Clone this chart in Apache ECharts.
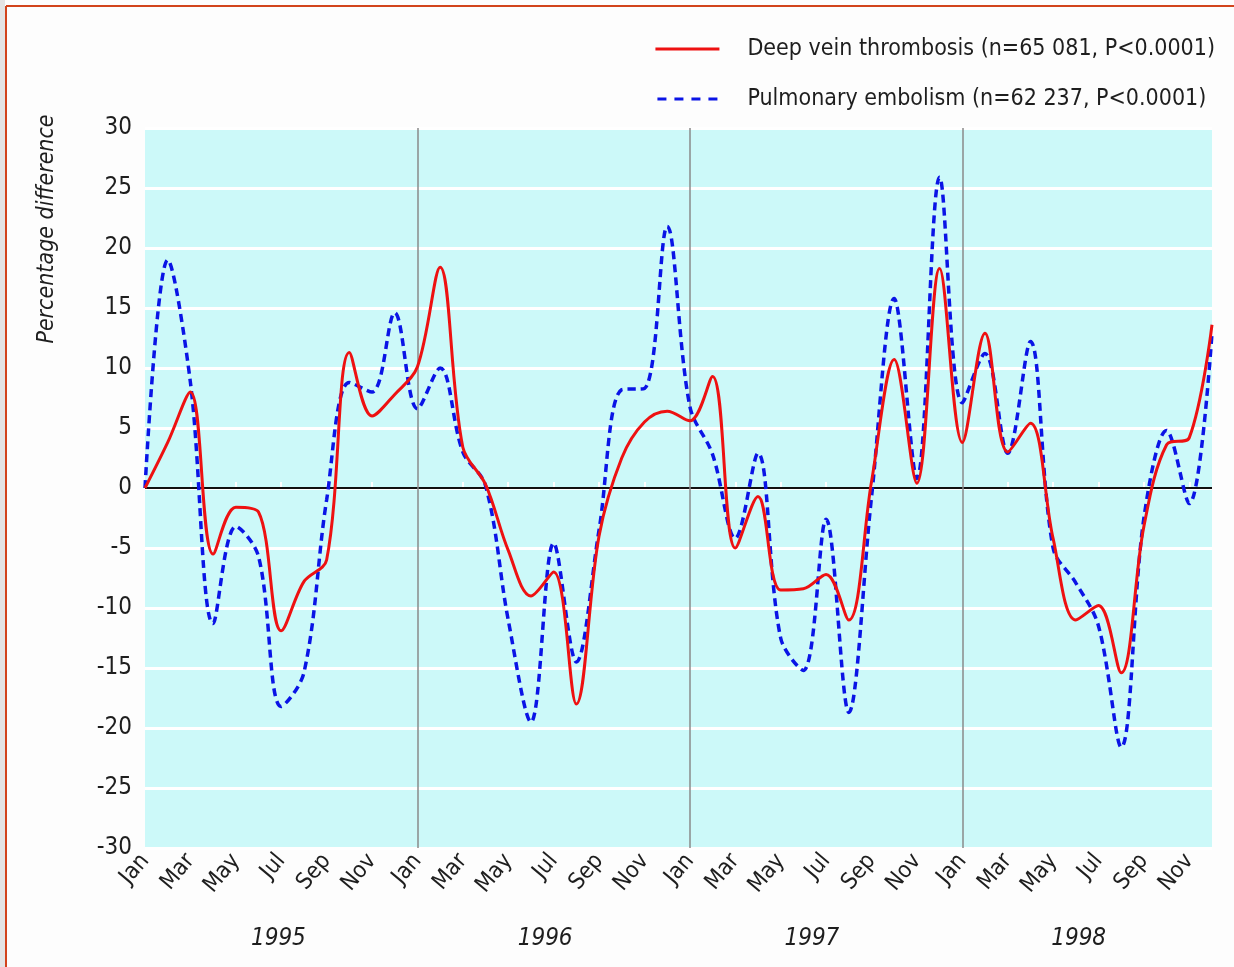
<!DOCTYPE html>
<html>
<head>
<meta charset="utf-8">
<script src="https://cdn.jsdelivr.net/npm/echarts@6/dist/echarts.min.js"></script>
<style>
  html, body { margin: 0; padding: 0; background: #fdfdfd; }
  #chart { width: 1234px; height: 967px; }
</style>
</head>
<body>
<div id="chart"></div>
<script>
// Monthly percentage difference from the annual mean, Jan 1995 - Dec 1998
const monthNames = ['Jan', 'Feb', 'Mar', 'Apr', 'May', 'Jun', 'Jul', 'Aug', 'Sep', 'Oct', 'Nov', 'Dec'];
const years = ['1995', '1996', '1997', '1998'];

const dvtValues = [
  0, 3.8, 8.0, -5.5, -1.6, -2.0, -11.9, -7.8, -6.0, 11.3, 6.0, 7.8,
  10.1, 18.4, 3.4, 0.3, -5.2, -9.0, -7.0, -18.0, -4.0, 2.5, 5.5, 6.4,
  5.6, 9.3, -5.0, -0.7, -8.5, -8.4, -7.2, -11.0, 0.5, 10.7, 0.4, 18.3,
  3.8, 12.9, 3.0, 5.4, -4.2, -11.0, -9.8, -15.4, -3.2, 3.6, 4.2, 13.6
];
const peValues = [
  0, 19.0, 8.8, -11.3, -3.2, -5.7, -18.2, -15.4, -1.0, 8.8, 8.0, 14.6,
  6.6, 10.0, 3.0, 0.2, -11.0, -19.5, -4.6, -14.5, -3.5, 8.2, 8.3, 21.8,
  6.8, 2.8, -4.2, 2.9, -12.5, -15.2, -2.6, -18.7, -0.8, 15.8, 0.8, 25.9,
  7.1, 11.2, 2.9, 12.2, -5.0, -7.9, -11.5, -21.6, -2.5, 4.8, -1.3, 12.9
];
const seriesNames = [
  'Deep vein thrombosis (n=65 081, P<0.0001)',
  'Pulmonary embolism (n=62 237, P<0.0001)'
];
const yTitle = 'Percentage difference';

// one category per month across all years
const months = [];
years.forEach(y => monthNames.forEach(m => months.push(m + ' ' + y)));

const FONT = '"Liberation Sans Narrow", "DejaVu Sans Condensed", sans-serif';
const TEXT = '#1e1e1e';
const RED = '#ee1111';
const BLUE = '#0a14e6';

// legend keys: a solid bar and a row of four dashes
const solidKey = 'path://M0,0H64V3H0Z';
const dashKey = 'path://M0,0H9V3H0Z M17,0H26V3H17Z M34,0H43V3H34Z M51,0H60V3H51Z';

// reference lines: zero line plus a divider at each new year
const refLines = [{ yAxis: 0, lineStyle: { color: '#111111', width: 2 } }];
years.slice(1).forEach(y => refLines.push({
  xAxis: 'Jan ' + y, lineStyle: { color: '#8a8a8a', width: 1.5 }
}));

const chart = echarts.init(document.getElementById('chart'), null, { renderer: 'canvas' });

chart.setOption({
  backgroundColor: '#fdfdfd',
  animation: false,
  textStyle: { fontFamily: FONT, color: TEXT },
  grid: {
    left: 145, right: 22, top: 128, bottom: 119,
    show: true, backgroundColor: '#ccf9f9', borderWidth: 0
  },
  legend: {
    orient: 'vertical',
    right: 14, top: 31,
    itemWidth: 64, itemHeight: 3, itemGap: 24,
    textStyle: { fontFamily: FONT, fontSize: 23, lineHeight: 26, color: TEXT, padding: [0, 0, 0, 23] },
    data: [
      { name: seriesNames[0], icon: solidKey, itemStyle: { color: RED } },
      { name: seriesNames[1], icon: dashKey, itemStyle: { color: BLUE } }
    ]
  },
  xAxis: [
    {
      type: 'category',
      data: months,
      boundaryGap: false,
      axisLine: { show: false },
      axisTick: {
        show: true, inside: true, interval: 1, length: 6,
        lineStyle: { color: '#ffffff', width: 2 }
      },
      axisLabel: {
        interval: 1, rotate: 50, margin: 9,
        fontFamily: FONT, fontSize: 23, color: TEXT,
        formatter: v => v.split(' ')[0]
      },
      splitLine: { show: false }
    },
    {
      type: 'category',
      data: years,
      position: 'bottom',
      boundaryGap: true,
      axisLine: { show: false },
      axisTick: { show: false },
      axisLabel: {
        margin: 79, fontFamily: FONT, fontSize: 24, fontStyle: 'italic', color: TEXT
      }
    }
  ],
  yAxis: {
    type: 'value',
    min: -30, max: 30, interval: 5,
    axisLine: { show: false },
    axisTick: { show: false },
    axisLabel: { margin: 13, fontFamily: FONT, fontSize: 24, color: TEXT },
    splitLine: { show: true, lineStyle: { color: '#ffffff', width: 3 } }
  },
  series: [
    {
      name: seriesNames[1],
      type: 'line',
      data: peValues,
      smooth: 0.35,
      symbol: 'none',
      z: 3,
      lineStyle: { color: BLUE, width: 3.5, type: [8, 5] },
      itemStyle: { color: BLUE },
      markLine: {
        silent: true, symbol: 'none', z: 2,
        label: { show: false },
        lineStyle: { type: 'solid' },
        data: refLines
      }
    },
    {
      name: seriesNames[0],
      type: 'line',
      data: dvtValues,
      smooth: 0.35,
      symbol: 'none',
      z: 4,
      lineStyle: { color: RED, width: 3 },
      itemStyle: { color: RED }
    }
  ],
  graphic: [
    {
      type: 'text',
      x: 47, y: 229, rotation: Math.PI / 2,
      style: {
        text: yTitle, fontFamily: FONT, fontSize: 23, fontStyle: 'italic',
        fill: TEXT, align: 'center', verticalAlign: 'middle'
      }
    },
    { type: 'rect', shape: { x: 0, y: 0, width: 5, height: 967 }, style: { fill: '#e4e4e4' } },
    { type: 'line', shape: { x1: 6, y1: 6, x2: 1234, y2: 6 }, style: { stroke: '#d2441c', lineWidth: 2 } },
    { type: 'line', shape: { x1: 6, y1: 6, x2: 6, y2: 967 }, style: { stroke: '#d2441c', lineWidth: 2 } }
  ]
});
</script>
</body>
</html>
